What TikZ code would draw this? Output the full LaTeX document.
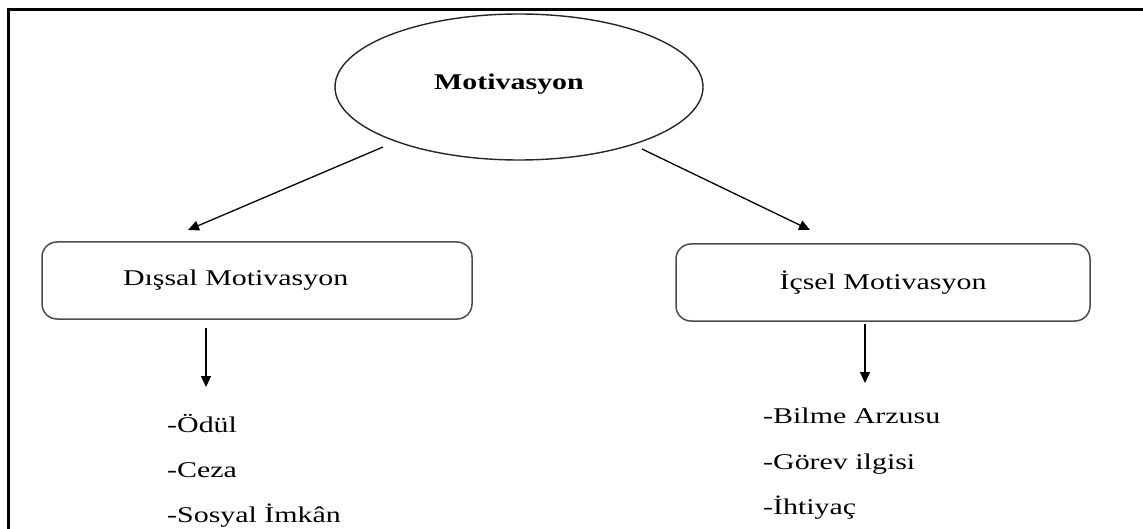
\documentclass[tikz,border=0pt]{standalone}
\usepackage{fontspec}
\setmainfont{Liberation Serif}[FakeStretch=1.33]
\usetikzlibrary{shapes.geometric,arrows.meta}
\begin{document}
\begin{tikzpicture}[x=1pt,y=-1pt,
  every node/.style={font=\fontsize{22.5}{27}\selectfont},
  arr/.style={line width=1.3pt,-{Triangle[length=11pt,width=10pt]}},
  catbox/.style={draw=black!70,line width=1.5pt,rounded corners=15pt,minimum height=77pt},
  item/.style={anchor=base west,inner sep=0pt}]
\useasboundingbox (0,0) rectangle (1143,529);
\begin{scope}
\clip (0,0) rectangle (1143,529);
\draw[line width=3pt] (8.3,540) -- (8.3,10) -- (1160,10);
\end{scope}
\node[draw=black!85,line width=1.4pt,ellipse,minimum width=368pt,minimum height=146pt,inner sep=0pt] (ell) at (519,87) {\raisebox{11pt}{\textbf{Motivasyon}}\kern20pt\null};
\node[catbox,text width=268pt,align=left,inner xsep=81pt,inner ysep=0pt] (lbox) at (257,280.5) {Dışsal Motivasyon};
\node[catbox,minimum width=414pt,inner ysep=0pt] (rbox) at (883,282.5) {İçsel Motivasyon};
\coordinate (ls) at (383,147);
\coordinate (le) at (188,230);
\coordinate (rs) at (642,149);
\coordinate (re) at (810,230);
\draw[arr] (ls) -- (le);
\draw[arr] (rs) -- (re);
\coordinate (lds) at (206,328);
\coordinate (lde) at (206,387);
\coordinate (rds) at (865,324);
\coordinate (rde) at (865,383);
\draw[arr] (lds) -- (lde);
\draw[arr] (rds) -- (rde);
\node[item] (l1) at (167,432) {-Ödül};
\node[item] (l2) at (167,477) {-Ceza};
\node[item] (l3) at (167,522) {-Sosyal İmkân};
\node[item] (r1) at (763,423) {-Bilme Arzusu};
\node[item] (r2) at (763,469) {-Görev ilgisi};
\node[item] (r3) at (763,514) {-İhtiyaç};
\end{tikzpicture}
\end{document}
